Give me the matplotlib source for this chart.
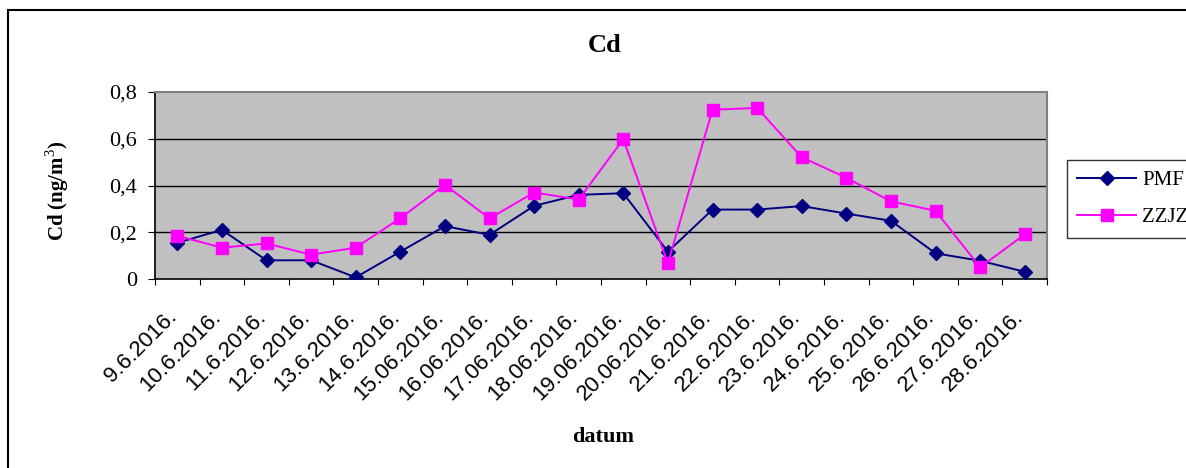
import numpy as np
import matplotlib.pyplot as plt
from matplotlib.patches import Rectangle
from matplotlib.transforms import ScaledTranslation

datumi = ["9.6.2016.", "10.6.2016.", "11.6.2016.", "12.6.2016.", "13.6.2016.",
          "14.6.2016.", "15.06.2016.", "16.06.2016.", "17.06.2016.", "18.06.2016.",
          "19.06.2016.", "20.06.2016.", "21.6.2016.", "22.6.2016.", "23.6.2016.",
          "24.6.2016.", "25.6.2016.", "26.6.2016.", "27.6.2016.", "28.6.2016."]
pmf = [0.155, 0.21, 0.08, 0.08, 0.007, 0.117, 0.226, 0.189, 0.313, 0.36,
       0.367, 0.117, 0.297, 0.297, 0.312, 0.28, 0.249, 0.11, 0.078, 0.031]
zzjz = [0.185, 0.134, 0.152, 0.104, 0.134, 0.26, 0.403, 0.259, 0.37, 0.34,
        0.598, 0.067, 0.724, 0.732, 0.521, 0.433, 0.332, 0.292, 0.05, 0.191]
y_ticks = [0, 0.2, 0.4, 0.6, 0.8]
y_tick_labels = ["0", "0,2", "0,4", "0,6", "0,8"]

serif = "Liberation Serif"
sans = "Liberation Sans"
plt.rcParams["mathtext.fontset"] = "custom"
plt.rcParams["mathtext.rm"] = serif
plt.rcParams["mathtext.bf"] = serif + ":bold"

W, H = 1186, 468
fig = plt.figure(figsize=(W / 100, H / 100), dpi=100)

# outer chart frame (runs off the right and bottom edge)
fig.patches.append(Rectangle((8 / W, -0.1), 1.2, 1 - 10 / H + 0.1, transform=fig.transFigure,
                             fill=False, edgecolor="black", linewidth=1.5))

L, R, T, B = 155, 1047, 92, 279
ax = fig.add_axes([L / W, 1 - B / H, (R - L) / W, (B - T) / H])
ax.set_facecolor("#C0C0C0")

x = np.arange(len(datumi))
ax.plot(x, pmf, color="#000080", marker="D", markersize=7, linewidth=1.4,
        label="PMF", zorder=3)
ax.plot(x, zzjz, color="#FF00FF", marker="s", markersize=8, linewidth=1.4,
        label="ZZJZ", zorder=3)

ax.set_xlim(-0.5, len(datumi) - 0.5)
ax.set_ylim(0, 0.8)

ax.set_yticks(y_ticks)
ax.set_yticklabels(y_tick_labels, fontfamily=serif, fontsize=16)
for yv in y_ticks[1:-1]:
    ax.axhline(yv, color="black", linewidth=1, zorder=1)

ax.set_xticks(np.arange(-0.5, len(datumi), 1))
ax.set_xticklabels([])
ax.set_xticks(x, minor=True)
ax.set_xticklabels(datumi, minor=True, rotation=45, ha="right", va="baseline",
                   rotation_mode="anchor", fontfamily=sans, fontsize=16)
shift = ScaledTranslation(-10 / 100, 0, fig.dpi_scale_trans)
for lbl in ax.get_xticklabels(minor=True):
    lbl.set_transform(lbl.get_transform() + shift)
ax.tick_params(axis="x", which="major", direction="out", length=4, color="black")
ax.tick_params(axis="x", which="minor", length=0, pad=28)
ax.tick_params(axis="y", direction="out", length=5, pad=8)

for s in ["top", "right"]:
    ax.spines[s].set_color("#808080")
    ax.spines[s].set_linewidth(1.5)
for s in ["left", "bottom"]:
    ax.spines[s].set_color("black")
    ax.spines[s].set_linewidth(1.2)

fig.text(605 / W, 1 - 45 / H, "Cd", fontfamily=serif, fontweight="bold",
         fontsize=19, ha="center", va="center")
fig.text(57 / W, 1 - 191 / H, "Cd (ng/m$^\\mathrm{3}$)", fontfamily=serif,
         fontweight="bold", fontsize=15, rotation=90, ha="center", va="center")
fig.text(603 / W, 1 - 437 / H, "datum", fontfamily=serif, fontweight="bold",
         fontsize=16, ha="center", va="center")

leg = fig.legend(loc="upper left", bbox_to_anchor=(1067 / W, 1 - 160 / H),
                 prop={"family": serif, "size": 15}, frameon=True, fancybox=False,
                 handlelength=2.8, borderpad=0.5, labelspacing=0.85,
                 handletextpad=0.3, borderaxespad=0)
leg.get_frame().set_edgecolor("black")
leg.get_frame().set_linewidth(1)

fig.savefig("out.png", dpi=100)
